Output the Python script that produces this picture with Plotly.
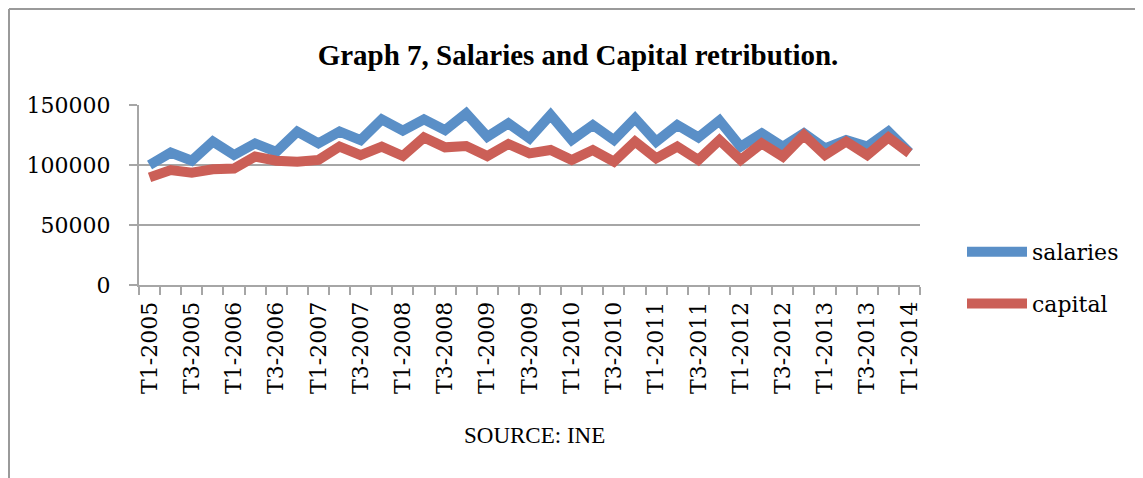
import plotly.graph_objects as go

quarters = [
    "T1-2005", "T2-2005", "T3-2005", "T4-2005",
    "T1-2006", "T2-2006", "T3-2006", "T4-2006",
    "T1-2007", "T2-2007", "T3-2007", "T4-2007",
    "T1-2008", "T2-2008", "T3-2008", "T4-2008",
    "T1-2009", "T2-2009", "T3-2009", "T4-2009",
    "T1-2010", "T2-2010", "T3-2010", "T4-2010",
    "T1-2011", "T2-2011", "T3-2011", "T4-2011",
    "T1-2012", "T2-2012", "T3-2012", "T4-2012",
    "T1-2013", "T2-2013", "T3-2013", "T4-2013",
    "T1-2014",
]

salaries = [
    100000, 110300, 103600, 119500, 108300, 118000, 111000, 127800,
    118000, 127800, 120800, 138000, 128600, 138000, 129000, 143000,
    123600, 134700, 122200, 141700, 120800, 133300, 120800, 138900,
    119500, 133300, 123000, 137000, 115300, 126400, 115300, 126400,
    113900, 120800, 115300, 127800, 110300,
]

capital = [
    89700, 95800, 93600, 96400, 97000, 107000, 103600, 102800,
    104200, 115300, 108300, 115300, 107500, 123000, 114700, 115800,
    107500, 117500, 109700, 112500, 104200, 112500, 102800, 119500,
    105600, 115300, 104200, 120800, 104200, 118000, 107000, 125000,
    108300, 119500, 108300, 123000, 109700,
]

y_ticks = [0, 50000, 100000, 150000]
y_tick_text = ["0", "50000", "100000", "150000"]

idx = list(range(len(quarters)))
label_idx = idx[::2]
label_txt = [quarters[i] for i in label_idx]

BLUE = "#5A8FC7"
RED = "#CB5F57"
GRID = "#A6A6A6"
SERIF = "DejaVu Serif"

fig = go.Figure()
fig.add_trace(go.Scatter(x=idx, y=salaries, mode="lines", name="salaries",
                         legendgroup="a",
                         line=dict(color=BLUE, width=10)))
fig.add_trace(go.Scatter(x=idx, y=capital, mode="lines", name="capital",
                         legendgroup="b",
                         line=dict(color=RED, width=10)))

# page body has an 8px margin: work in page pixels, convert to figure pixels
OFF = 8
W, H = 1143 - OFF, 478 - OFF
PL, PR, PT, PB = 139, 920, 105, 285          # plot area in page pixels
L, R, T, B = PL - OFF, (W + OFF) - PR, PT - OFF, (H + OFF) - PB
pw, ph = PR - PL, PB - PT

def px(x):
    return (x - PL) / pw

def py(y):
    return (PB - y) / ph

fig.update_layout(
    width=W, height=H,
    margin=dict(l=L, r=R, t=T, b=B, autoexpand=False),
    paper_bgcolor="white", plot_bgcolor="white",
    title=dict(text="<b>Graph 7, Salaries and Capital retribution.</b>",
               font=dict(family="Liberation Serif", size=29, color="black"),
               xref="paper", x=px(578), xanchor="center",
               yref="container", y=1 - (55 - OFF) / H, yanchor="middle"),
    showlegend=True,
    legend=dict(x=px(962), xanchor="left", y=py(231), yanchor="top",
                font=dict(family=SERIF, size=22, color="black"),
                itemwidth=60, tracegroupgap=20, traceorder="grouped",
                bgcolor="rgba(0,0,0,0)"),
    xaxis=dict(range=[-0.5, len(quarters) - 0.5], tickmode="array",
               tickvals=label_idx, ticktext=label_txt, tickangle=-90,
               ticks="", showgrid=False, zeroline=False,
               showline=True, linecolor=GRID, linewidth=2,
               tickfont=dict(family=SERIF, size=22, color="black"),
               ticklabelstandoff=6,
               minor=dict(tick0=-0.5, dtick=1, ticks="outside", ticklen=8,
                          tickcolor=GRID, tickwidth=2, showgrid=False)),
    yaxis=dict(range=[0, 150000], tickmode="array", tickvals=y_ticks,
               ticktext=y_tick_text,
               ticks="outside", ticklen=8, tickcolor=GRID, tickwidth=2,
               showgrid=True, gridcolor=GRID, gridwidth=2, zeroline=False,
               showline=True, linecolor=GRID, linewidth=2,
               tickfont=dict(family=SERIF, size=22, color="black"),
               ticklabelstandoff=14),
    annotations=[dict(text="SOURCE: INE", xref="paper", yref="paper",
                      x=px(534), y=py(435), xanchor="center", yanchor="middle",
                      showarrow=False,
                      font=dict(family="Liberation Serif", size=23, color="black"))],
    shapes=[
        dict(type="line", xref="paper", yref="paper",
             x0=px(9), x1=px(1143), y0=py(9), y1=py(9),
             line=dict(color="#9A9A9A", width=2)),
        dict(type="line", xref="paper", yref="paper",
             x0=px(9), x1=px(9), y0=py(9), y1=py(478),
             line=dict(color="#9A9A9A", width=2)),
    ],
)

fig.write_html("out.html")
